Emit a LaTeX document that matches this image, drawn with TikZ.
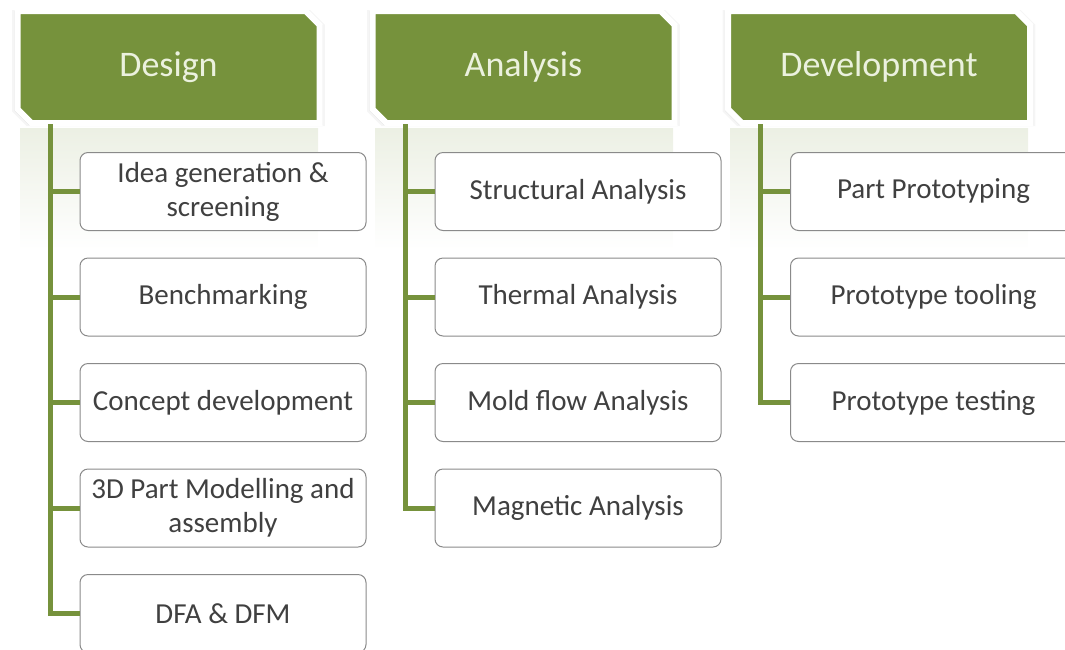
\documentclass[tikz,border=0pt]{standalone}
\usepackage{fontspec}
\setmainfont{Carlito}
\usetikzlibrary{shapes.misc, shadows, positioning}
\definecolor{leaf}{HTML}{76923C}
\definecolor{leaftext}{HTML}{EBF1DE}
\definecolor{boxline}{HTML}{8A8A8A}
\definecolor{boxtext}{HTML}{404040}
\tikzstyle{phase} = [chamfered rectangle, chamfered rectangle corners={north east, south west}, chamfered rectangle xsep=7pt, chamfered rectangle ysep=7pt, minimum width=302pt, minimum height=112pt, fill=leaf, draw=white, line width=6pt, text=leaftext, font=\fontsize{36}{40}\selectfont, drop shadow={shadow xshift=0pt, shadow yshift=-1pt, shadow scale=1.035, opacity=0.08}, drop shadow={shadow xshift=0pt, shadow yshift=-1pt, shadow scale=1.02, opacity=0.12}]
\tikzstyle{task} = [rectangle, rounded corners=8pt, minimum width=286pt, minimum height=78pt, text centered, align=center, fill=white, draw=boxline, line width=1pt, text=boxtext, font=\fontsize{29}{34}\selectfont]
\tikzstyle{branch} = [draw=leaf, line width=5pt]
\tikzstyle{mirror} = [top color=leaf!14!white, bottom color=white, draw=none]

\begin{document}
\begin{tikzpicture}[x=1pt, y=1pt, node distance=105.5pt]
\useasboundingbox (0,0) rectangle (1065,-649);
%倒影
\shade[mirror] (20,-128) rectangle (318,-250);
\shade[mirror] (375,-128) rectangle (673,-250);
\shade[mirror] (730,-128) rectangle (1028,-250);
%定义流程图具体形状
\node[phase](design) at (168.5,-67){Design};
\node[phase](analysis) at (523.5,-67){Analysis};
\node[phase](devel) at (879,-67){Development};
\coordinate (tdesign) at (50,-124);
\coordinate (tanalysis) at (405,-124);
\coordinate (tdevel) at (760,-124);
\node[task](d1) at (223,-191.5){Idea generation \&\\screening};
\node[task, below of = d1](d2){Benchmarking};
\node[task, below of = d2](d3){Concept development};
\node[task, below of = d3](d4){3D Part Modelling and\\assembly};
\node[task, below of = d4](d5){DFA \& DFM};
\node[task](a1) at (578,-191.5){Structural Analysis};
\node[task, below of = a1](a2){Thermal Analysis};
\node[task, below of = a2](a3){Mold flow Analysis};
\node[task, below of = a3](a4){Magnetic Analysis};
\node[task](v1) at (933.5,-191.5){Part Prototyping};
\node[task, below of = v1](v2){Prototype tooling};
\node[task, below of = v2](v3){Prototype testing};
%连接具体形状
\draw [branch] (tdesign) |- (d1.west);
\draw [branch] (tdesign) |- (d2.west);
\draw [branch] (tdesign) |- (d3.west);
\draw [branch] (tdesign) |- (d4.west);
\draw [branch] (tdesign) |- (d5.west);
\draw [branch] (tanalysis) |- (a1.west);
\draw [branch] (tanalysis) |- (a2.west);
\draw [branch] (tanalysis) |- (a3.west);
\draw [branch] (tanalysis) |- (a4.west);
\draw [branch] (tdevel) |- (v1.west);
\draw [branch] (tdevel) |- (v2.west);
\draw [branch] (tdevel) |- (v3.west);
\end{tikzpicture}
\end{document}
